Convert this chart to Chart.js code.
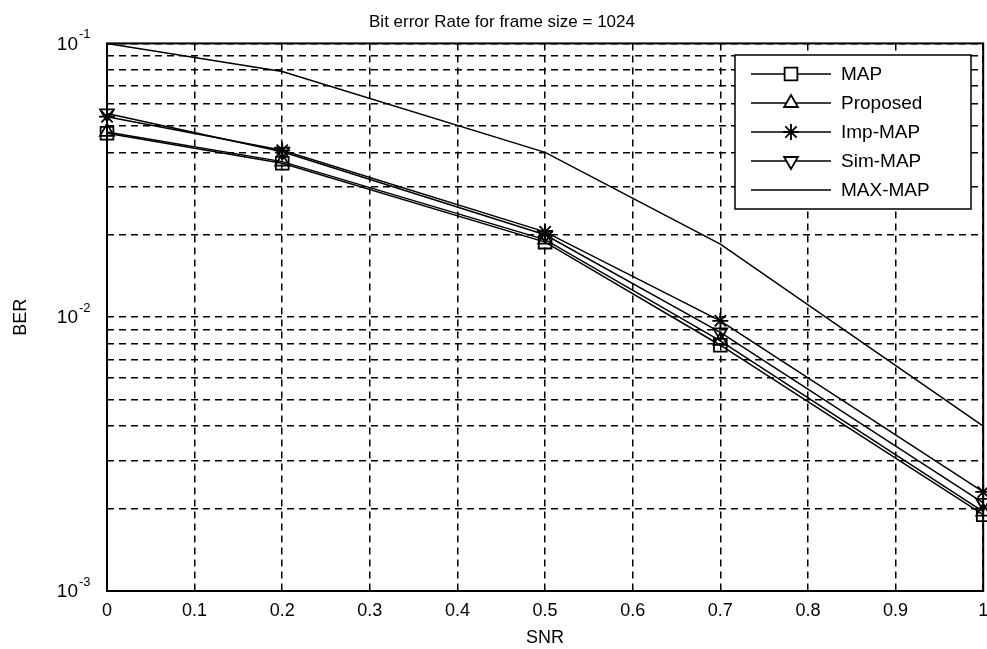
<!DOCTYPE html>
<html>
<head>
<meta charset="utf-8">
<script src="https://cdn.jsdelivr.net/npm/chart.js@4.4.1/dist/chart.umd.min.js"></script>
<style>
  html, body { margin: 0; padding: 0; background: #fff; overflow: hidden; }
  #wrap { width: 987px; height: 649px; overflow: hidden; }
</style>
</head>
<body>
<div id="wrap"><canvas id="berChart" width="994" height="649"></canvas></div>
<script>
const snr = [0, 0.2, 0.5, 0.7, 1];
const berMap = [0.047, 0.0365, 0.0188, 0.0079, 0.0019];
const berProposed = [0.0475, 0.037, 0.0192, 0.0082, 0.00195];
const berImpMap = [0.054, 0.0407, 0.0205, 0.0097, 0.0023];
const berSimMap = [0.0555, 0.0402, 0.0200, 0.0088, 0.0021];
const berMaxMap = [0.1, 0.079, 0.040, 0.0185, 0.004];

const xTicks = [0, 0.1, 0.2, 0.3, 0.4, 0.5, 0.6, 0.7, 0.8, 0.9, 1];
const yTicks = [
  0.001, 0.002, 0.003, 0.004, 0.005, 0.006, 0.007, 0.008, 0.009,
  0.01, 0.02, 0.03, 0.04, 0.05, 0.06, 0.07, 0.08, 0.09, 0.1
];
const yLabels = { 0.1: '-1', 0.01: '-2', 0.001: '-3' };

const FONT = 'Liberation Sans, Arial, sans-serif';

function markerSize(style) {
  if (!style) return 0;
  return style === 'rect' ? 9 : 8;
}

function series(label, values, style, rotation) {
  return {
    label: label,
    data: values.map((v, i) => ({ x: snr[i], y: v })),
    borderColor: '#000',
    backgroundColor: 'rgba(0,0,0,0)',
    borderWidth: 1.5,
    pointStyle: style,
    pointRotation: rotation || 0,
    pointRadius: markerSize(style),
    pointBorderWidth: 1.8,
    pointBorderColor: '#000',
    clip: 12,
    tension: 0
  };
}

// frame, y labels with exponents and boxed legend
const matlabLook = {
  id: 'matlabLook',
  afterDraw(chart) {
    const ctx = chart.ctx;
    const a = chart.chartArea;
    const y = chart.scales.y;
    ctx.save();
    ctx.strokeStyle = '#000';
    ctx.lineWidth = 2;
    ctx.setLineDash([]);
    ctx.strokeRect(a.left, a.top, a.right - a.left, a.bottom - a.top);

    ctx.fillStyle = '#000';
    Object.keys(yLabels).forEach(k => {
      const py = y.getPixelForValue(Number(k));
      ctx.font = '19px ' + FONT;
      ctx.textAlign = 'right';
      ctx.textBaseline = 'middle';
      ctx.fillText('10', a.left - 29, py + 1);
      ctx.font = '13px ' + FONT;
      ctx.textAlign = 'left';
      ctx.fillText(yLabels[k], a.left - 28, py - 9);
    });

    // legend
    const lx = 735, ly = 55, lw = 236, lh = 154;
    ctx.fillStyle = '#fff';
    ctx.fillRect(lx, ly, lw, lh);
    ctx.lineWidth = 1.5;
    ctx.strokeRect(lx, ly, lw, lh);
    chart.data.datasets.forEach((ds, i) => {
      const ry = ly + 19 + i * 29;
      ctx.beginPath();
      ctx.lineWidth = 1.5;
      ctx.moveTo(lx + 16, ry);
      ctx.lineTo(lx + 96, ry);
      ctx.stroke();
      if (ds.pointStyle) {
        ctx.fillStyle = '#fff';
        ctx.lineWidth = 1.8;
        Chart.helpers.drawPoint(ctx, {
          pointStyle: ds.pointStyle,
          rotation: ds.pointRotation,
          radius: ds.pointRadius,
          borderWidth: 1.8
        }, lx + 56, ry);
      }
      ctx.fillStyle = '#000';
      ctx.font = '19px ' + FONT;
      ctx.textAlign = 'left';
      ctx.textBaseline = 'middle';
      ctx.fillText(ds.label, lx + 106, ry + 1);
    });
    ctx.restore();
  }
};

new Chart(document.getElementById('berChart'), {
  type: 'line',
  data: {
    datasets: [
      series('MAP', berMap, 'rect'),
      series('Proposed', berProposed, 'triangle'),
      series('Imp-MAP', berImpMap, 'star'),
      series('Sim-MAP', berSimMap, 'triangle', 180),
      series('MAX-MAP', berMaxMap, false)
    ]
  },
  options: {
    responsive: false,
    animation: false,
    layout: { padding: { left: 10, right: 0, top: 0, bottom: 0 } },
    plugins: {
      legend: { display: false },
      tooltip: { enabled: false },
      title: {
        display: true,
        text: 'Bit error Rate for frame size = 1024',
        color: '#000',
        font: { family: FONT, size: 17, weight: 'normal' },
        padding: { top: 12, bottom: 11 }
      }
    },
    scales: {
      x: {
        type: 'linear',
        min: 0,
        max: 1,
        afterBuildTicks: s => { s.ticks = xTicks.map(v => ({ value: v })); },
        afterFit: s => { s.height = 58; s.paddingLeft = 0; s.paddingRight = 0; },
        ticks: {
          color: '#000',
          font: { family: FONT, size: 18 },
          padding: 9,
          callback: v => String(Math.round(v * 10) / 10)
        },
        grid: { color: '#000', lineWidth: 1.5, drawTicks: false },
        border: { display: false, dash: [7, 5] },
        title: {
          display: true,
          text: 'SNR',
          color: '#000',
          font: { family: FONT, size: 18 },
          padding: { top: 0, bottom: 0 }
        }
      },
      y: {
        type: 'logarithmic',
        min: 0.001,
        max: 0.1,
        afterBuildTicks: s => { s.ticks = yTicks.map(v => ({ value: v })); },
        afterFit: s => { s.width = 97; s.paddingTop = 0; s.paddingBottom = 0; },
        ticks: { display: false },
        grid: { color: '#000', lineWidth: 1.5, drawTicks: false },
        border: { display: false, dash: [7, 5] },
        title: {
          display: true,
          text: 'BER',
          color: '#000',
          font: { family: FONT, size: 18 },
          padding: { top: 0, bottom: 0 }
        }
      }
    }
  },
  plugins: [matlabLook]
});
</script>
</body>
</html>
